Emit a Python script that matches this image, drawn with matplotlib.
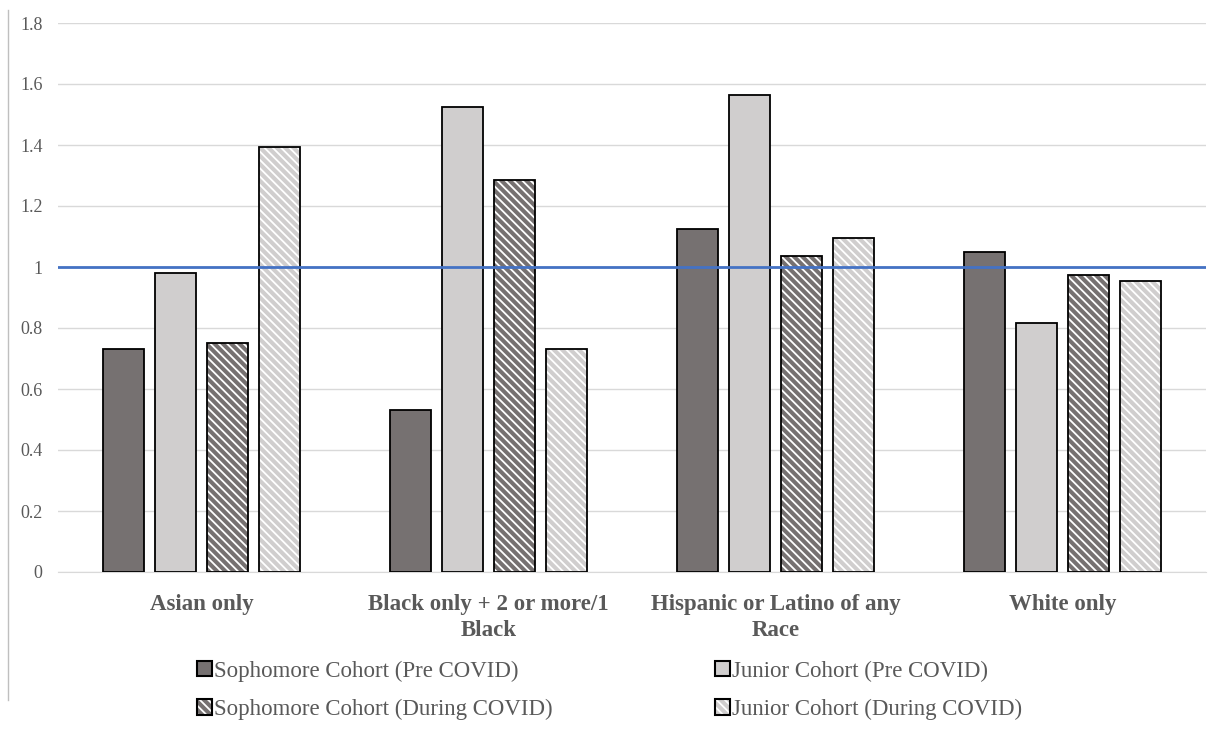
import numpy as np
import matplotlib.pyplot as plt
from matplotlib.patches import Patch
from matplotlib.legend_handler import HandlerTuple
from matplotlib.lines import Line2D

# data
categories = ['Asian only', 'Black only + 2 or more/1\nBlack',
              'Hispanic or Latino of any\nRace', 'White only']
series = ['Sophomore Cohort (Pre COVID)', 'Junior Cohort (Pre COVID)',
          'Sophomore Cohort (During COVID)', 'Junior Cohort (During COVID)']
soph_pre = [0.73, 0.53, 1.125, 1.05]
junior_pre = [0.98, 1.525, 1.565, 0.815]
soph_during = [0.75, 1.285, 1.035, 0.975]
junior_during = [1.395, 0.73, 1.095, 0.955]
reference = 1.0

values = [soph_pre, junior_pre, soph_during, junior_during]
fills = ['#767171', '#D0CECE', '#767171', '#D0CECE']
hatches = [None, None, '\\\\\\\\', '\\\\\\\\']

plt.rcParams['font.family'] = ['Liberation Serif', 'DejaVu Serif']
plt.rcParams['hatch.linewidth'] = 1.3

fig = plt.figure(figsize=(12.18, 7.29), dpi=100)
ax = fig.add_axes([58 / 1218, 1 - 572 / 729, (1206 - 58) / 1218, (572 - 23) / 729])

x = np.arange(len(categories))
width = 0.143
step = 0.181
offsets = (np.arange(4) - 1.5) * step

handles = []
for i in range(4):
    pos = x + offsets[i]
    if hatches[i]:
        ax.bar(pos, values[i], width, color=fills[i], hatch=hatches[i],
               edgecolor='white', linewidth=0, zorder=2)
    else:
        ax.bar(pos, values[i], width, color=fills[i], linewidth=0, zorder=2)
    ax.bar(pos, values[i], width, facecolor='none', edgecolor='black',
           linewidth=1.3, zorder=3)
    p1 = Patch(facecolor=fills[i], hatch=hatches[i], edgecolor='white', linewidth=0)
    p2 = Patch(facecolor='none', edgecolor='black', linewidth=1.5)
    handles.append((p1, p2))

ax.axhline(reference, color='#4472C4', linewidth=2, zorder=4)

ax.set_xlim(-0.5, 3.5)
ax.set_ylim(0, 1.8)
ax.set_yticks(np.arange(0, 1.81, 0.2))
ax.set_yticklabels(['0', '0.2', '0.4', '0.6', '0.8', '1', '1.2', '1.4', '1.6', '1.8'])
ax.yaxis.grid(True, color='#D9D9D9', linewidth=1)
ax.set_axisbelow(True)
for s in ['top', 'right', 'left']:
    ax.spines[s].set_visible(False)
ax.spines['bottom'].set_color('#D9D9D9')
ax.tick_params(axis='both', length=0, colors='#595959')
ax.tick_params(axis='y', labelsize=13, pad=11)
ax.set_xticks(x)
ax.set_xticklabels(categories, fontsize=16.5, fontweight='bold', color='#595959',
                   linespacing=1.3)
ax.tick_params(axis='x', pad=16)

order = [0, 2, 1, 3]
leg = fig.legend([handles[k] for k in order], [series[k] for k in order],
                 handler_map={tuple: HandlerTuple(ndivide=1, pad=0)},
                 loc='lower left', bbox_to_anchor=(176 / 1218, -0.016),
                 ncol=2, frameon=False, fontsize=16.5, handlelength=0.65,
                 handleheight=0.65, handletextpad=0.1, columnspacing=7.1,
                 labelspacing=0.75, labelcolor='#595959')

# left border line of the image
fig.add_artist(Line2D([8 / 1218, 8 / 1218], [1 - 700 / 729, 1 - 10 / 729],
                      color='#BFBFBF', linewidth=1))

fig.savefig('out.png', dpi=100)
